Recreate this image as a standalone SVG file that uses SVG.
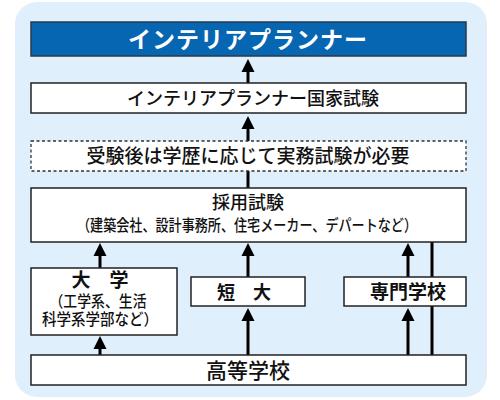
<svg xmlns="http://www.w3.org/2000/svg" width="500" height="400" viewBox="0 0 500 400">
<defs>
<path id="ah" d="M0 0 L6.5 13 L-6.5 13 Z" fill="#000"/>
<style>
text{font-family:"Noto Sans CJK JP","Noto Sans",sans-serif;fill:#111;text-anchor:middle;font-weight:500}
.box{fill:#fff;stroke:#222;stroke-width:1.5}
.dash{fill:#fff;stroke:#333;stroke-width:1.3;stroke-dasharray:3 2.5}
.ln{stroke:#000;stroke-width:3;fill:none}
</style>
</defs>
<rect x="15" y="2" width="472" height="395" rx="22" fill="#dfeffc"/>
<g id="connectors">
<line class="ln" x1="248" y1="68" x2="248" y2="83"/><use href="#ah" x="248" y="59"/>
<line class="ln" x1="248" y1="125" x2="248" y2="141"/><use href="#ah" x="248" y="116"/>
<line class="ln" x1="248" y1="171" x2="248" y2="188"/>
<line class="ln" x1="100" y1="252" x2="100" y2="268"/><use href="#ah" x="100" y="243"/>
<line class="ln" x1="248" y1="252" x2="248" y2="277"/><use href="#ah" x="248" y="243"/>
<line class="ln" x1="408" y1="252" x2="408" y2="277"/><use href="#ah" x="408" y="243"/>
<line class="ln" x1="100" y1="346" x2="100" y2="355"/><use href="#ah" x="100" y="336"/>
<line class="ln" x1="248" y1="317" x2="248" y2="355"/><use href="#ah" x="248" y="308"/>
<line class="ln" x1="408" y1="317" x2="408" y2="355"/><use href="#ah" x="408" y="308"/>
<line class="ln" x1="432" y1="242" x2="432" y2="355"/>
</g>
<g id="title">
<rect x="31" y="22" width="435" height="34" fill="#0766b2" stroke="#2a3a4a" stroke-width="1.5"/>
<text x="248" y="48" style="fill:#fff;font-weight:700;font-size:23px;letter-spacing:1px">インテリアプランナー</text>
</g>
<g id="exam">
<rect class="box" x="31" y="83" width="435" height="30"/>
<text x="253" y="105" style="font-size:18px">インテリアプランナー国家試験</text>
</g>
<g id="practice">
<rect class="dash" x="31" y="141" width="435" height="30"/>
<text x="248" y="163" style="font-size:19px">受験後は学歴に応じて実務試験が必要</text>
</g>
<g id="hiring">
<rect class="box" x="31" y="188" width="435" height="54"/>
<text x="248" y="209" style="font-size:18px">採用試験</text>
<text x="247" y="231" style="font-size:16px" textLength="340" lengthAdjust="spacingAndGlyphs">（建築会社、設計事務所、住宅メーカー、デパートなど）</text>
</g>
<g id="university">
<rect class="box" x="31" y="268" width="146" height="67"/>
<text x="100" y="287" style="font-size:19px;font-weight:700">大　学</text>
<text x="98" y="307" style="font-size:15.5px" textLength="97" lengthAdjust="spacingAndGlyphs">（工学系、生活</text>
<text x="100" y="325" style="font-size:15.5px" textLength="116" lengthAdjust="spacingAndGlyphs">科学系学部など）</text>
</g>
<g id="junior">
<rect class="box" x="191" y="277" width="114" height="29"/>
<text x="244" y="299" style="font-size:18px;font-weight:700">短　大</text>
</g>
<g id="vocational">
<rect class="box" x="344" y="277" width="122" height="29"/>
<text x="408" y="299" style="font-size:19px;font-weight:700">専門学校</text>
</g>
<g id="highschool">
<rect class="box" x="31" y="355" width="435" height="30"/>
<text x="248" y="378" style="font-size:21px">高等学校</text>
</g>
</svg>
